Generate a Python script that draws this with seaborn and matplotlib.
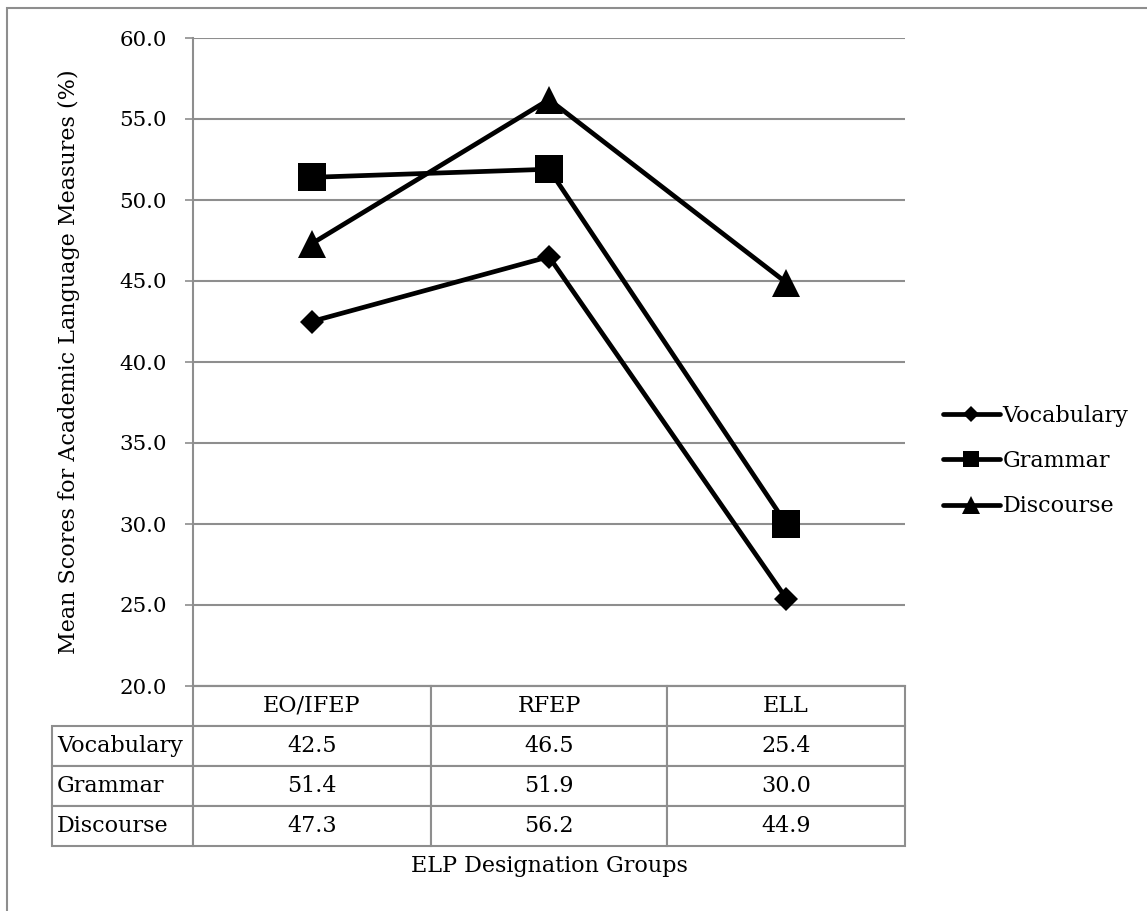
import pandas as pd
import matplotlib
matplotlib.use('Agg')
import matplotlib.pyplot as plt
import seaborn as sns
from matplotlib.lines import Line2D
from matplotlib.patches import Rectangle

# data
groups = ['EO/IFEP', 'RFEP', 'ELL']
measures = ['Vocabulary', 'Grammar', 'Discourse']
vocabulary = [42.5, 46.5, 25.4]
grammar = [51.4, 51.9, 30.0]
discourse = [47.3, 56.2, 44.9]
y_ticks = [20.0, 25.0, 30.0, 35.0, 40.0, 45.0, 50.0, 55.0, 60.0]

scores = {'Vocabulary': vocabulary, 'Grammar': grammar, 'Discourse': discourse}
df = pd.DataFrame([(g, m, scores[m][i]) for m in measures for i, g in enumerate(groups)],
                  columns=['group', 'measure', 'score'])

sns.set_style('white')
plt.rcParams['font.family'] = ['DejaVu Serif']
plt.rcParams['text.color'] = 'black'
plt.rcParams['axes.labelcolor'] = 'black'
plt.rcParams['ytick.labelcolor'] = 'black'
grey = '#8e8e8e'
fs = 16

W, H = 1147, 911
fig = plt.figure(figsize=(W / 100, H / 100), dpi=100)
# axes placed in pixel units of the reference
ax = fig.add_axes([193 / W, 1 - 686 / H, 712 / W, 648 / H])

# outer frame (only top and left edge visible)
fig.add_artist(Rectangle((7 / W, -0.1), 1.2, 1.1 - 8 / H, transform=fig.transFigure,
                         fill=False, edgecolor=grey, lw=1.5))

markers = {'Vocabulary': 'D', 'Grammar': 's', 'Discourse': '^'}
msizes = {'Vocabulary': 12.5, 'Grammar': 20, 'Discourse': 20}
for m in measures:
    sns.lineplot(data=df[df['measure'] == m], x='group', y='score', ax=ax,
                 color='black', linewidth=3.4, marker=markers[m],
                 markersize=msizes[m], markeredgewidth=0, legend=False, sort=False)

ax.set_xlim(-0.5, 2.5)
ax.set_ylim(20, 60)
ax.set_yticks(y_ticks)
ax.set_yticklabels(['%.1f' % t for t in y_ticks], fontsize=15.4)
ax.tick_params(axis='y', which='both', left=True, length=6, width=1.2, color=grey, pad=13)
ax.tick_params(axis='x', bottom=False, labelbottom=False)
ax.grid(axis='y', color=grey, lw=1.5)
ax.set_axisbelow(True)
for s in ['top', 'right']:
    ax.spines[s].set_visible(False)
for s in ['left', 'bottom']:
    ax.spines[s].set_color(grey)
    ax.spines[s].set_linewidth(1.5)

ax.set_ylabel('Mean Scores for Academic Language Measures (%)', fontsize=fs)
ax.yaxis.set_label_coords((80 - 193) / 712, 0.5)
ax.set_xlabel('ELP Designation Groups', fontsize=fs)
ax.xaxis.set_label_coords(0.5, (686 - 855) / 648)

# data table under the axes
cell_text = [[m] + ['%.1f' % v for v in scores[m]] for m in measures]
col_w = [141, 238, 236, 238]
tbl = ax.table(cellText=cell_text, colLabels=[''] + groups, cellLoc='center',
               colWidths=[w / sum(col_w) for w in col_w],
               bbox=[(52 - 193) / 712, -160 / 648, (905 - 52) / 712, 160 / 648])
tbl.auto_set_font_size(False)
tbl.set_fontsize(fs)
for (r, c), cell in tbl.get_celld().items():
    cell.set_edgecolor(grey)
    cell.set_linewidth(1.5)
    cell.get_text().set_color('black')
    if r == 0 and c == 0:
        cell.visible_edges = ''
    if c == 0:
        cell.get_text().set_horizontalalignment('left')
        cell.PAD = 0.035

# legend
handles = [Line2D([], [], color='black', lw=3.4, marker=markers[m],
                  markersize={'Vocabulary': 8, 'Grammar': 12, 'Discourse': 13}[m],
                  markeredgewidth=0) for m in measures]
fig.legend(handles, measures, loc='center left', bbox_to_anchor=(943 / W, 1 - 461 / H),
           frameon=False, fontsize=fs, handlelength=2.55, handletextpad=0.12,
           borderpad=0, borderaxespad=0, labelspacing=1.05)

fig.savefig('out.png', dpi=100)
